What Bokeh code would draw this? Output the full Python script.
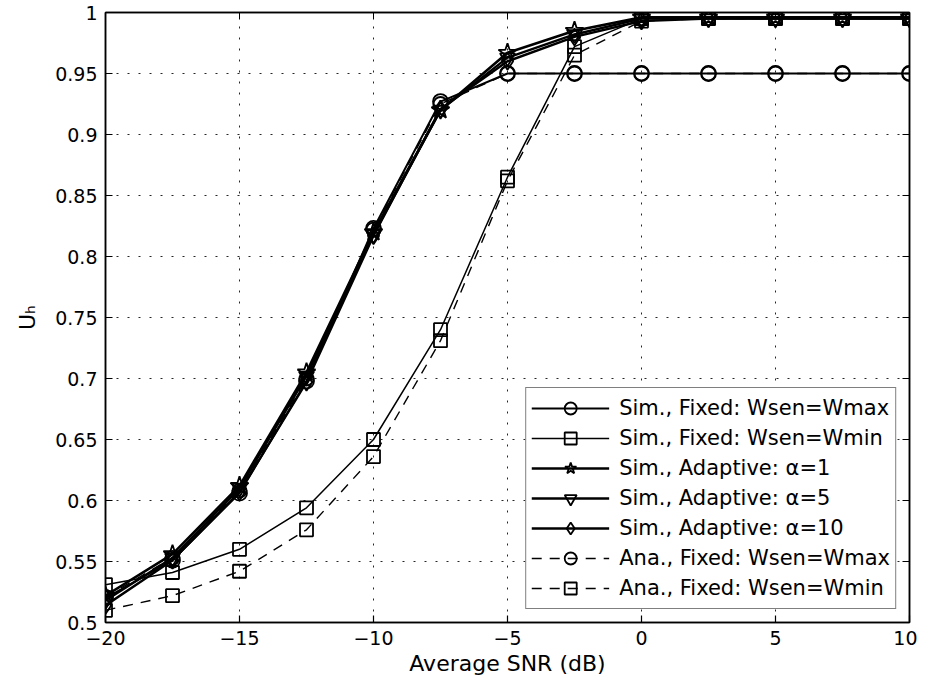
from bokeh.plotting import figure
from bokeh.models import LegendItem, Legend, FixedTicker, LinearAxis, Range1d
from bokeh.embed import file_html
from bokeh.resources import INLINE

# ---- data ----
snr = [-20, -17.5, -15, -12.5, -10, -7.5, -5, -2.5, 0, 2.5, 5, 7.5, 10]
sim_fixed_wmax = [0.520, 0.551, 0.606, 0.698, 0.823, 0.927, 0.950, 0.950, 0.950, 0.950, 0.950, 0.950, 0.950]
sim_fixed_wmin = [0.531, 0.541, 0.560, 0.594, 0.650, 0.740, 0.865, 0.972, 0.995, 0.995, 0.995, 0.995, 0.995]
sim_adapt_a1 = [0.522, 0.556, 0.612, 0.705, 0.820, 0.920, 0.967, 0.985, 0.996, 0.996, 0.996, 0.996, 0.996]
sim_adapt_a5 = [0.518, 0.553, 0.610, 0.702, 0.818, 0.920, 0.963, 0.982, 0.995, 0.995, 0.995, 0.995, 0.995]
sim_adapt_a10 = [0.514, 0.551, 0.607, 0.697, 0.817, 0.921, 0.960, 0.980, 0.993, 0.995, 0.995, 0.995, 0.995]
ana_fixed_wmax = [0.521, 0.553, 0.608, 0.700, 0.822, 0.925, 0.950, 0.950, 0.950, 0.950, 0.950, 0.950, 0.950]
ana_fixed_wmin = [0.510, 0.522, 0.542, 0.576, 0.636, 0.731, 0.862, 0.965, 0.993, 0.995, 0.995, 0.995, 0.995]

series_labels = [
    "Sim., Fixed: Wsen=Wmax",
    "Sim., Fixed: Wsen=Wmin",
    "Sim., Adaptive: \u03b1=1",
    "Sim., Adaptive: \u03b1=5",
    "Sim., Adaptive: \u03b1=10",
    "Ana., Fixed: Wsen=Wmax",
    "Ana., Fixed: Wsen=Wmin",
]
series_values = [sim_fixed_wmax, sim_fixed_wmin, sim_adapt_a1, sim_adapt_a5,
                 sim_adapt_a10, ana_fixed_wmax, ana_fixed_wmin]
series_markers = ["circle", "square", "star", "inverted_triangle", "diamond", "circle", "square"]
series_dash = ["solid", "solid", "solid", "solid", "solid", "10 8", "10 8"]
series_msize = [15, 13, 19, 15, 17, 14, 13]
series_lw = [2.0, 1.5, 2.6, 2.4, 2.4, 1.4, 1.4]

x_tick_values = [-20, -15, -10, -5, 0, 5, 10]
x_tick_labels = ["\u221220", "\u221215", "\u221210", "\u22125", "0", "5", "10"]
y_tick_labels = ["0.5", "0.55", "0.6", "0.65", "0.7", "0.75", "0.8", "0.85", "0.9", "0.95", "1"]
y_tick_values = [float(s) for s in y_tick_labels]

FONT = "DejaVu Sans"

p = figure(width=917, height=680, output_backend="svg", toolbar_location=None,
           x_range=Range1d(-20, 10), y_range=Range1d(0.5, 1.0),
           min_border_left=105, min_border_right=8, min_border_top=12, min_border_bottom=58,
           background_fill_color="white", border_fill_color="white")

p.outline_line_color = "black"
p.outline_line_width = 1.5

for ax, vals, labs in ((p.xaxis[0], x_tick_values, x_tick_labels), (p.yaxis[0], y_tick_values, y_tick_labels)):
    ax.ticker = FixedTicker(ticks=vals)
    ax.major_label_overrides = {v: l for v, l in zip(vals, labs)}
    ax.minor_tick_line_color = None
    ax.major_tick_in = 7
    ax.major_tick_out = 0
    ax.major_tick_line_color = "black"
    ax.major_tick_line_width = 1.2
    ax.axis_line_color = "black"
    ax.axis_line_width = 1.5
    ax.major_label_text_font = FONT
    ax.major_label_text_font_size = "19px"
    ax.major_label_text_color = "black"
    ax.axis_label_text_font = FONT
    ax.axis_label_text_font_style = "normal"
    ax.axis_label_text_font_size = "22px"
    ax.axis_label_text_color = "black"

p.xaxis.axis_label = "Average SNR (dB)"
p.xaxis.major_label_standoff = 8
p.xaxis.axis_label_standoff = 3
p.yaxis.axis_label = "U\u2095"
p.yaxis.major_label_standoff = 8
p.yaxis.axis_label_standoff = 12

# box ticks on the top and right
right_ax = LinearAxis(ticker=FixedTicker(ticks=y_tick_values),
                      major_label_overrides={v: "" for v in y_tick_values},
                      major_tick_in=7, major_tick_out=0, minor_tick_line_color=None,
                      major_label_standoff=0, axis_line_width=1.5)
top_ax = LinearAxis(ticker=FixedTicker(ticks=x_tick_values),
                    major_label_overrides={v: "" for v in x_tick_values},
                    major_tick_in=7, major_tick_out=0, minor_tick_line_color=None,
                    major_label_standoff=0, axis_line_width=1.5)
p.add_layout(right_ax, "right")
p.add_layout(top_ax, "above")

p.xgrid.ticker = FixedTicker(ticks=x_tick_values)
p.ygrid.ticker = FixedTicker(ticks=y_tick_values)
for g in (p.xgrid[0], p.ygrid[0]):
    g.grid_line_color = "black"
    g.grid_line_dash = "2 9"
    g.grid_line_width = 1
    g.grid_line_alpha = 0.85

items = []
for lab, vals, mk, dash, ms, lw in zip(series_labels, series_values, series_markers,
                                       series_dash, series_msize, series_lw):
    lr = p.line(snr, vals, line_color="black", line_width=lw, line_dash=dash)
    sr = p.scatter(snr, vals, marker=mk, size=ms, line_color="black", line_width=1.8,
                   fill_color=None)
    items.append(LegendItem(label=lab, renderers=[lr, sr]))

legend = Legend(items=items, location="bottom_right", margin=13,
                padding=5, spacing=0, glyph_width=78, glyph_height=30, label_height=30,
                label_standoff=10, label_text_font=FONT, label_text_font_size="21px",
                label_text_color="black", border_line_color="black", border_line_width=1.5,
                background_fill_color="white", background_fill_alpha=1.0)
p.add_layout(legend, "center")

open("out.html", "w").write(file_html(p, INLINE))
